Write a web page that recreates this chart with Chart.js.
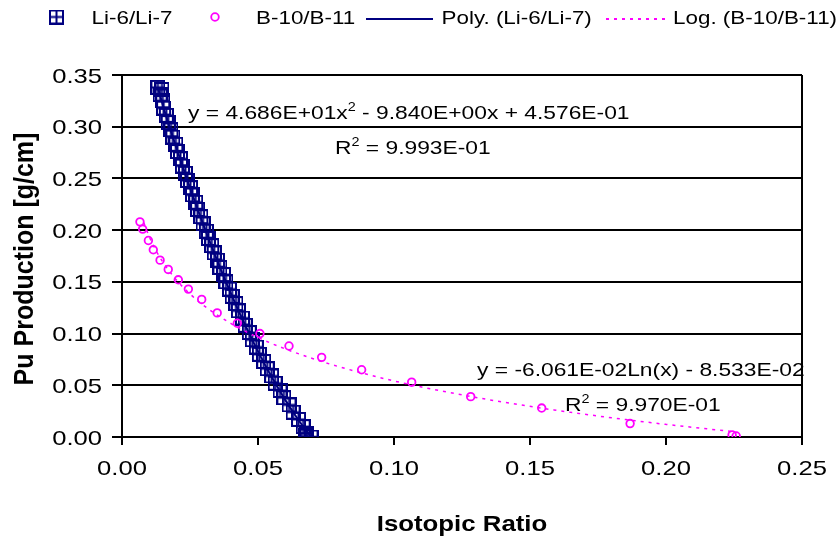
<!DOCTYPE html>
<html><head><meta charset="utf-8">
<script src="https://cdn.jsdelivr.net/npm/chart.js@4.4.0/dist/chart.umd.min.js"></script>
<style>html,body{margin:0;padding:0;background:#fff;}canvas{display:block;}</style>
</head><body>
<canvas id="c" width="840" height="539"></canvas>
<script>
// ---- data ----
const seriesNames = ['Li-6/Li-7', 'B-10/B-11', 'Poly. (Li-6/Li-7)', 'Log. (B-10/B-11)'];
const liX = [0.0132,0.0147,0.0140,0.0150,0.0153,0.0163,0.0170,0.0180,0.0187,0.0198,0.0204,0.0215,0.0222,0.0233,0.0241,0.0252,0.0259,0.0271,0.0278,0.0290,0.0298,0.0310,0.0318,0.0330,0.0339,0.0351,0.0360,0.0373,0.0382,0.0395,0.0405,0.0419,0.0428,0.0443,0.0453,0.0468,0.0479,0.0494,0.0505,0.0521,0.0534,0.0550,0.0563,0.0581,0.0595,0.0614,0.0629,0.0649,0.0666,0.0680,0.0695,0.0675];
const liY = [0.338,0.336,0.331,0.325,0.318,0.311,0.304,0.297,0.290,0.283,0.276,0.269,0.262,0.255,0.248,0.241,0.234,0.227,0.220,0.213,0.206,0.199,0.192,0.185,0.178,0.171,0.164,0.157,0.150,0.143,0.136,0.129,0.122,0.115,0.108,0.101,0.094,0.087,0.080,0.073,0.066,0.059,0.052,0.045,0.038,0.031,0.024,0.017,0.010,0.003,0.000,0.001];
const bX = [0.0066,0.0076,0.0097,0.0115,0.0140,0.0170,0.0207,0.0244,0.0293,0.0350,0.0424,0.0507,0.0614,0.0734,0.0881,0.1065,0.1282,0.1543,0.1868,0.2243,0.2258];
const bY = [0.208,0.201,0.190,0.181,0.171,0.162,0.152,0.143,0.133,0.120,0.110,0.100,0.088,0.077,0.065,0.053,0.039,0.028,0.013,0.002,0.001];
// trendline points
const polyX = [0.0132,0.016,0.020,0.025,0.030,0.035,0.040,0.045,0.050,0.055,0.060,0.065,0.0695];
const polyY = [0.3376,0.3122,0.2795,0.2409,0.2046,0.1706,0.1390,0.1097,0.0828,0.0582,0.0359,0.0160,0.0001];
const logX = [0.0080,0.010,0.0125,0.015,0.020,0.025,0.030,0.040,0.050,0.060,0.070,0.080,0.100,0.120,0.140,0.160,0.180,0.200,0.2258];
const logY = [0.2073,0.1938,0.1803,0.1692,0.1518,0.1383,0.1272,0.1098,0.0962,0.0852,0.0759,0.0678,0.0542,0.0432,0.0338,0.0257,0.0186,0.0122,0.0049];
const xTickLabels = ['0.00','0.05','0.10','0.15','0.20','0.25'];
const yTickLabels = ['0.00','0.05','0.10','0.15','0.20','0.25','0.30','0.35'];
const xTitle = 'Isotopic Ratio';
const yTitle = 'Pu Production [g/cm]';
const polyEq = ['y = 4.686E+01x', '2', ' - 9.840E+00x + 4.576E-01'];
const polyR2 = ['R', '2', ' = 9.993E-01'];
const logEq = ['y = -6.061E-02Ln(x) - 8.533E-02', '', ''];
const logR2 = ['R', '2', ' = 9.970E-01'];

const NAVY = '#000080', MAG = '#FF00FF';
const FONT = "'Liberation Sans', Arial, sans-serif";

function pts(xs, ys) { return xs.map((x, i) => ({x: x, y: ys[i]})); }

// square-with-plus marker
const sq = document.createElement('canvas');
sq.width = 15; sq.height = 15;
(function(){ const g = sq.getContext('2d'); g.strokeStyle = NAVY; g.lineWidth = 2;
  g.strokeRect(1,1,13,13); g.beginPath(); g.moveTo(7.5,1); g.lineTo(7.5,14); g.moveTo(1,7.5); g.lineTo(14,7.5); g.stroke(); })();

function txt(ctx, s, x, y, size, bold, align, sx) {
  ctx.save();
  ctx.translate(x, y); ctx.scale(sx, 1);
  ctx.font = (bold ? 'bold ' : '') + size + 'px ' + FONT;
  ctx.textAlign = align; ctx.textBaseline = 'alphabetic'; ctx.fillStyle = '#000';
  ctx.fillText(s, 0, 0);
  ctx.restore();
}
function supText(ctx, parts, x, y, size, sx) {
  ctx.save();
  ctx.fillStyle = '#000'; ctx.textBaseline = 'alphabetic'; ctx.textAlign = 'left';
  let cx = x;
  const draw = (s, fs, dy) => {
    if (!s) return;
    ctx.save(); ctx.font = fs + 'px ' + FONT; ctx.translate(cx, y + dy); ctx.scale(sx, 1);
    ctx.fillText(s, 0, 0); cx += ctx.measureText(s).width * sx; ctx.restore();
  };
  draw(parts[0], size, 0);
  draw(parts[1], Math.round(size * 0.65), -8);
  draw(parts[2], size, 0);
  ctx.restore();
}

const textPlugin = {
  id: 'texts',
  afterDraw(chart) {
    const ctx = chart.ctx, xs = chart.scales.x, ys = chart.scales.y;
    ys.ticks.forEach((t, i) => {
      const py = ys.getPixelForValue(t.value);
      txt(ctx, yTickLabels[i], 102, py + 7.5, 21, false, 'right', 1.22);
    });
    xs.ticks.forEach((t, i) => {
      const px = xs.getPixelForValue(t.value);
      txt(ctx, xTickLabels[i], px, 475, 21, false, 'center', 1.22);
    });
    txt(ctx, xTitle, (chart.chartArea.left + chart.chartArea.right) / 2, 531, 21.5, true, 'center', 1.2);
    ctx.save();
    ctx.translate(33, 259); ctx.scale(1.1, 1); ctx.rotate(-Math.PI / 2);
    ctx.font = 'bold 25px ' + FONT; ctx.textAlign = 'center'; ctx.textBaseline = 'alphabetic'; ctx.fillStyle = '#000';
    ctx.fillText(yTitle, 0, 0);
    ctx.restore();
    supText(ctx, polyEq, 188, 118.5, 19, 1.2);
    supText(ctx, polyR2, 335, 153.5, 19, 1.2);
    supText(ctx, logEq, 477, 376, 19, 1.2);
    supText(ctx, logR2, 565, 410.5, 19, 1.2);
    const ly = 17;
    ctx.drawImage(sq, 56.5 - 7.5, ly - 7.5);
    txt(ctx, seriesNames[0], 91.5, ly + 7, 19, false, 'left', 1.18);
    ctx.save(); ctx.strokeStyle = MAG; ctx.lineWidth = 1.8; ctx.beginPath(); ctx.arc(215, ly, 3.8, 0, Math.PI * 2); ctx.stroke(); ctx.restore();
    txt(ctx, seriesNames[1], 256, ly + 7, 19, false, 'left', 1.18);
    ctx.save(); ctx.strokeStyle = NAVY; ctx.lineWidth = 2; ctx.beginPath(); ctx.moveTo(366, ly + 2); ctx.lineTo(433, ly + 2); ctx.stroke(); ctx.restore();
    txt(ctx, seriesNames[2], 441.5, ly + 7, 19, false, 'left', 1.18);
    ctx.save(); ctx.strokeStyle = MAG; ctx.lineWidth = 1.8; ctx.setLineDash([3, 5]); ctx.beginPath(); ctx.moveTo(606, ly + 2); ctx.lineTo(668, ly + 2); ctx.stroke(); ctx.restore();
    txt(ctx, seriesNames[3], 673, ly + 7, 19, false, 'left', 1.18);
  }
};

new Chart(document.getElementById('c'), {
  type: 'scatter',
  data: {
    datasets: [
      { label: seriesNames[0], data: pts(liX, liY), pointStyle: sq, pointRadius: 7.5, order: 4 },
      { label: seriesNames[2], data: pts(polyX, polyY), showLine: true, borderColor: NAVY, borderWidth: 2, pointRadius: 0, cubicInterpolationMode: 'monotone', order: 3 },
      { label: seriesNames[1], data: pts(bX, bY), pointStyle: 'circle', pointRadius: 3.8, borderColor: MAG, borderWidth: 1.8, backgroundColor: 'rgba(0,0,0,0)', order: 2 },
      { label: seriesNames[3], data: pts(logX, logY), showLine: true, borderColor: MAG, borderWidth: 1.5, borderDash: [3, 5], pointRadius: 0, cubicInterpolationMode: 'monotone', order: 1 }
    ]
  },
  options: {
    responsive: false, animation: false, devicePixelRatio: 1,
    layout: { padding: { top: 75, right: 38, left: 0, bottom: 0 } },
    plugins: { legend: { display: false }, tooltip: { enabled: false }, title: { display: false } },
    scales: {
      x: {
        type: 'linear', min: 0, max: 0.25,
        ticks: { stepSize: 0.05, display: false },
        grid: { drawOnChartArea: true, tickLength: 8, tickColor: '#000', lineWidth: 2,
          color: c => (c.tick && Math.abs(c.tick.value - 0.25) < 1e-9) ? '#000' : 'rgba(0,0,0,0)' },
        border: { display: true, color: '#000', width: 2 },
        afterFit: s => { s.height = 102; }
      },
      y: {
        type: 'linear', min: 0, max: 0.35,
        ticks: { stepSize: 0.05, display: false },
        grid: { color: '#000', lineWidth: 2, tickLength: 10, tickColor: '#000' },
        border: { display: true, color: '#000', width: 2 },
        afterFit: s => { s.width = 122; }
      }
    }
  },
  plugins: [textPlugin]
});
</script>
</body></html>
